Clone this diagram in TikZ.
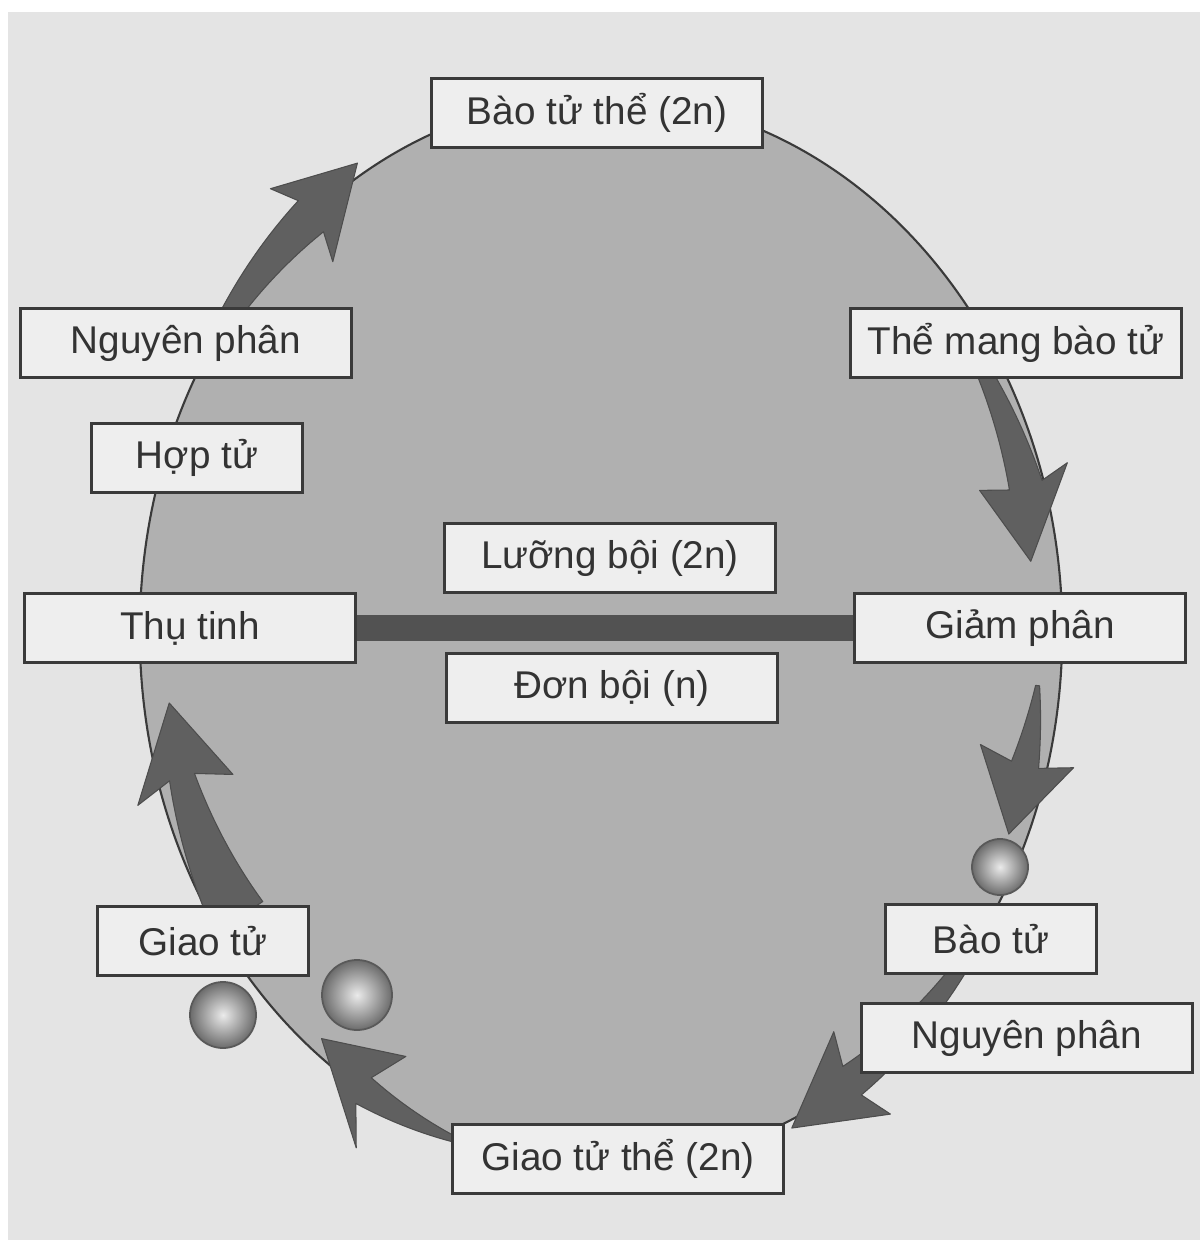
\documentclass[tikz,border=0pt]{standalone}
\usepackage{fontspec}
\setmainfont{Liberation Sans}
\usepackage{tikz}
\usetikzlibrary{positioning}
\definecolor{paper}{RGB}{228,228,228}
\definecolor{boxfill}{RGB}{238,238,238}
\definecolor{cellgray}{RGB}{176,176,176}
\definecolor{arrowgray}{RGB}{96,96,96}
\definecolor{inkgray}{RGB}{58,58,58}

% tapered arrow along the cycle: start, head base, barb, tip angle,
% start width, end width, half head width, centre offset, tip offset
\newcommand{\cyclearrow}[9]{%
  \fill[cyclearrow] plot[domain=#1:#2, samples=24, variable=\t]
    ({601+(461+(#8)+((#5)+((#6)-(#5))*(\t-(#1))/((#2)-(#1)))/2)*cos(\t)},%
     {632-(535+(#8)+((#5)+((#6)-(#5))*(\t-(#1))/((#2)-(#1)))/2)*sin(\t)})
    -- ({601+(461+(#8)+(#7))*cos(#3)},{632-(535+(#8)+(#7))*sin(#3)})
    -- ({601+(461+(#9))*cos(#4)},{632-(535+(#9))*sin(#4)})
    -- ({601+(461+(#8)-(#7))*cos(#3)},{632-(535+(#8)-(#7))*sin(#3)})
    -- plot[domain=#2:#1, samples=24, variable=\t]
    ({601+(461+(#8)-((#5)+((#6)-(#5))*(\t-(#1))/((#2)-(#1)))/2)*cos(\t)},%
     {632-(535+(#8)-((#5)+((#6)-(#5))*(\t-(#1))/((#2)-(#1)))/2)*sin(\t)})
    -- cycle;}

\begin{document}
\begin{tikzpicture}[
    x=0.01cm, y=-0.01cm,
    stagebox/.style={rectangle, draw=inkgray, fill=boxfill, line width=0.9pt, minimum width=3.31cm, minimum height=0.69cm, inner sep=2pt, text=black!80, font=\fontsize{11}{13}\selectfont},
    smallbox/.style={stagebox, minimum width=2.11cm},
    cycleline/.style={draw=inkgray, line width=0.6pt, fill=cellgray},
    cyclearrow/.style={fill=arrowgray, draw=arrowgray!80!black, line width=0.3pt, line join=round},
    cell/.style={circle, draw=black!65, line width=0.5pt, inner color=black!8, outer color=black!58, inner sep=0pt},
    ploidybar/.style={draw=black!68, line width=0.26cm}
  ]
  \useasboundingbox (0,0) rectangle (1200,1240);
  % paper
  \fill[white] (0,0) rectangle (1200,1240);
  \fill[paper] (8,12) rectangle (1200,1240);

  % life cycle
  \draw[cycleline] (601,632) ellipse [x radius=4.61cm, y radius=5.35cm];

  % arrows round the cycle
  \cyclearrow{145}{129}{130.5}{121}{18}{40}{48}{0}{12}
  \cyclearrow{31}{16.5}{17.5}{8}{14}{34}{46}{-18}{-27}
  \cyclearrow{-6}{-15}{-14}{-23}{4}{28}{48}{-22}{-18}
  \cyclearrow{-38}{-57}{-55.5}{-66}{14}{34}{50}{0}{8}
  \cyclearrow{-107}{-121}{-118.5}{-128.7}{3}{30}{52}{0}{-14}
  \cyclearrow{-146}{-163.5}{-162}{-172}{58}{26}{50}{-24}{-25}

  % spores and gametes
  \node[cell, minimum size=0.56cm] (spore) at (1000,867) {};
  \node[cell, minimum size=0.66cm] (gam1) at (223,1015) {};
  \node[cell, minimum size=0.70cm] (gam2) at (357,995) {};

  % stages
  \node[stagebox] (bts) at (597,113) {Bào tử thể (2n)};
  \node[stagebox] (tmbt) at (1016,343) {Thể mang bào tử};
  \node[stagebox] (gp) at (1020,628) {Giảm phân};
  \node[smallbox] (bt) at (991,939) {Bào tử};
  \node[stagebox] (np2) at (1027,1038) {Nguyên phân};
  \node[stagebox] (gtt) at (618,1159) {Giao tử thể (2n)};
  \node[smallbox] (gt) at (203,941) {Giao tử};
  \node[stagebox] (tt) at (190,628) {Thụ tinh};
  \node[smallbox] (ht) at (197,458) {Hợp tử};
  \node[stagebox] (np1) at (186,343) {Nguyên phân};

  % ploidy
  \node[stagebox] (lb) at (610,558) {Lưỡng bội (2n)};
  \node[stagebox] (db) at (612,688) {Đơn bội (n)};
  \draw[ploidybar] (tt) -- (gp);
\end{tikzpicture}
\end{document}
